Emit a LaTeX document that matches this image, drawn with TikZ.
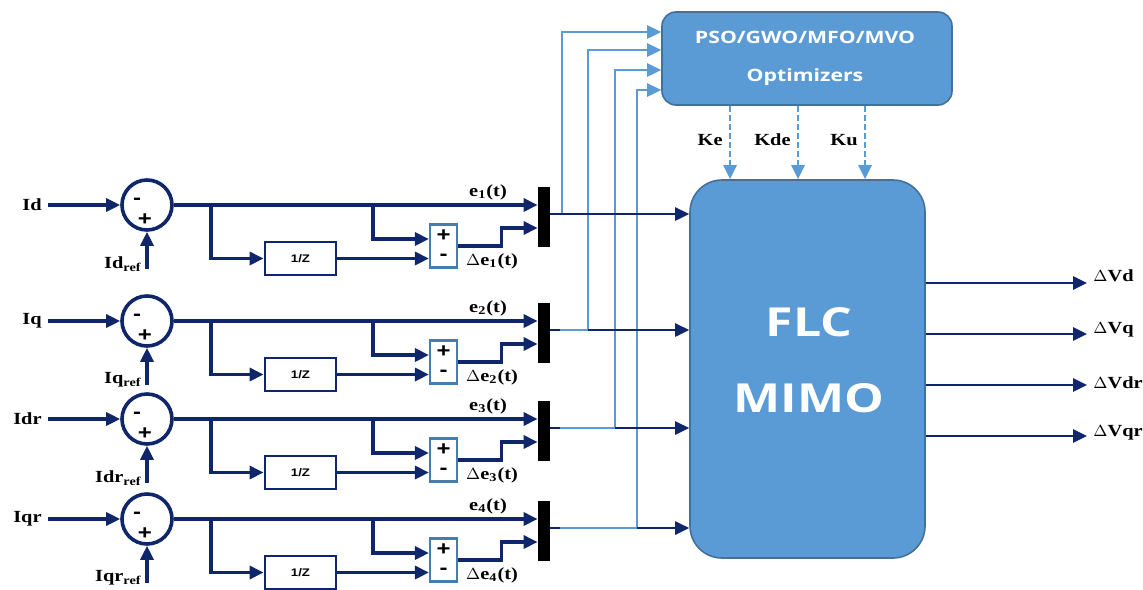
\documentclass[tikz,border=0pt]{standalone}
\usepackage{fontspec}
\setmainfont{Liberation Serif}[FakeStretch=1.2]
\newfontfamily\osans{Open Sans}[FakeStretch=1.25]
\newfontfamily\lsans{Liberation Sans}[FakeStretch=1.2]
\usetikzlibrary{arrows.meta,calc}
\definecolor{navy}{RGB}{16,38,106}
\definecolor{lblue}{RGB}{91,155,213}
\definecolor{bborder}{RGB}{65,113,156}
\definecolor{sumb}{RGB}{70,125,175}
\begin{document}
\begin{tikzpicture}[x=0.5pt,y=-0.5pt,
  nav/.style={draw=navy, line width=1.6pt},
  lb/.style={draw=lblue, line width=1.3pt},
  arr/.style={-{Triangle[length=7pt,width=6.5pt]}},
  lab/.style={font=\bfseries\fontsize{8.5}{9}\selectfont, inner sep=0},
  circ/.style={circle, draw=navy, line width=1.8pt, minimum size=25pt, inner sep=0},
  dly/.style={draw=navy, line width=1.4pt, minimum width=35.5pt, minimum height=16.5pt, inner sep=0, font=\lsans\bfseries\fontsize{5.5}{6}\selectfont},
  sumbox/.style={draw=sumb, line width=1.1pt, minimum width=13.5pt, minimum height=21.5pt, inner sep=0},
  barbox/.style={fill=black, minimum width=6pt, minimum height=30pt, inner sep=0},
  sgn/.style={font=\lsans\bfseries\fontsize{10}{10}\selectfont, inner sep=0},
  bigw/.style={text=white, font=\osans\bfseries\fontsize{20}{24}\selectfont, inner sep=0},
  optw/.style={text=white, font=\osans\bfseries\fontsize{8.5}{10}\selectfont, inner sep=0}]
\useasboundingbox (0,0) rectangle (1143,589);
\fill[white] (0,0) rectangle (1143,589);

% main blocks
\node[draw=bborder, fill=lblue, line width=0.8pt, rounded corners=16pt,
      minimum width=117.5pt, minimum height=189pt] (flc) at (807.5,369) {};
\node[bigw] (flct) at (809,322) {FLC};
\node[bigw] (mimot) at (809,398) {MIMO};
\node[draw=bborder, fill=lblue, line width=0.8pt, rounded corners=7pt,
      minimum width=145pt, minimum height=46.5pt] (opt) at (807,58.5) {};
\node[optw] (optt1) at (805,37) {PSO/GWO/MFO/MVO};
\node[optw] (optt2) at (805,77) {Optimizers};

% feedback to optimizer (drawn first, under the dark lines)
\foreach \i/\x/\oy/\y in {1/562/32/205, 2/588/50/321, 3/615/70/419, 4/637/90/519} {
  \coordinate (f\i) at (\x,\oy);
  \coordinate (g\i) at (560,{\y+9});
  \draw[lb,arr] (g\i) -| (f\i) -- (f\i -| opt.west);
}

% rows
\foreach \i/\y/\inp in {1/205/Id, 2/321/Iq, 3/419/Idr, 4/519/Iqr} {
  \node[lab, anchor=east] (in\i) at (42,\y) {\inp};
  \node[circ] (c\i) at (147,\y) {};
  \node[sgn] (cm\i) at (137,{\y-4}) {-};
  \node[sgn] (cp\i) at (145,{\y+15}) {+};
  \node[lab, anchor=east] (rl\i) at (142,{\y+59}) {\inp\textsubscript{ref}};
  \coordinate (r\i) at (147,{\y+64});
  \coordinate (j1\i) at (211,\y);
  \coordinate (j2\i) at (373,\y);
  \node[dly] (d\i) at (300.5,{\y+53.5}) {1/Z};
  \node[sumbox] (s\i) at (443.5,{\y+41}) {};
  \node[sgn] (sp\i) at (443.5,{\y+31}) {+};
  \node[sgn] (sm\i) at (443.5,{\y+52}) {-};
  \node[barbox] (b\i) at (544,{\y+11.5}) {};
  \coordinate (o\i) at ($(b\i.east)+(0,-2.5)$);
  \coordinate (si\i) at ($(s\i.west)+(0,-7)$);
  \coordinate (bi\i) at ($(b\i.west)+(0,11.5)$);
  \draw[nav,arr,shorten <=3pt] (in\i.east) -- (c\i.west);
  \draw[nav,arr] (r\i) -- (c\i.south);
  \draw[nav,arr] (c\i.east) -- (c\i.east -| b\i.west);
  \draw[nav,arr] (j1\i) |- (d\i.west);
  \draw[nav,arr] (j2\i) |- (si\i);
  \draw[nav,arr] (d\i.east) -- (d\i.east -| s\i.west);
  \draw[nav,arr] (s\i.east) -- ++(43,0) |- (bi\i);
  \draw[draw=navy,line width=1.3pt,arr] (o\i) -- (o\i -| flc.west);
  \node[lab] (el\i) at (488,{\y-13}) {e\textsubscript{\i}(t)};
  \node[lab] (del\i) at (492,{\y+56}) {$\Delta$e\textsubscript{\i}(t)};
}
% light overlay on the start of each bar output
\foreach \i/\x in {2/588, 3/615, 4/637} {
  \draw[lb] (g\i) -- (g\i -| f\i);
}

% gains
\foreach \x/\k/\n in {730/Ke/1, 798/Kde/2, 865/Ku/3} {
  \coordinate (k\n) at (\x,0);
  \draw[lb,arr,dash pattern=on 3pt off 1.5pt] (opt.south -| k\n) -- (flc.north -| k\n);
  \node[lab, anchor=east] (kl\n) at ({\x-7},140) {\k};
}

% outputs
\foreach \y/\t/\ly/\n in {283/Vd/276/1, 334/Vq/330/2, 385/Vdr/383/3, 436/Vqr/433/4} {
  \coordinate (q\n) at (1087,\y);
  \draw[draw=navy,line width=1.3pt,arr] (flc.east |- q\n) -- (q\n);
  \node[lab, anchor=west] (ql\n) at (1093,\ly) {$\Delta$\t};
}
\end{tikzpicture}
\end{document}
